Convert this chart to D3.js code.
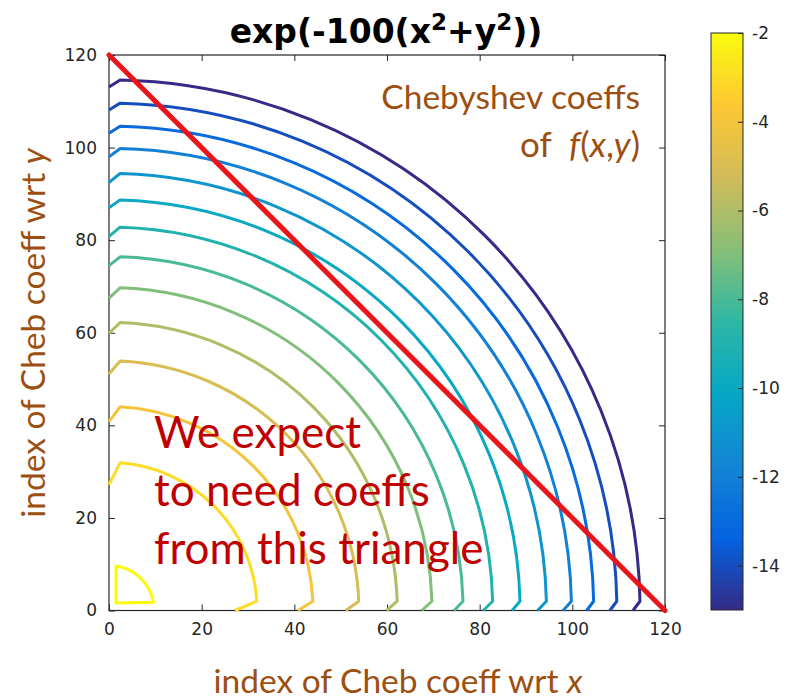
<!DOCTYPE html>
<html>
<head>
<meta charset="utf-8">
<script src="https://cdn.jsdelivr.net/npm/d3@7"></script>
<style>
  body { margin: 0; background: #fff; }
</style>
</head>
<body>
<div id="chart"></div>
<script>
// contour levels = log10 |coeff|, innermost first
var levels = [-2, -3, -4, -5, -6, -7, -8, -9, -10, -11, -12, -13, -14, -15];
// index where each contour is farthest out along an axis
var peakIndex = [9.6, 31.9, 44.0, 53.9, 62.2, 69.7, 76.4, 82.8, 88.7, 94.4, 99.8, 104.6, 109.6, 114.6];
// index where each contour touches the axis (null = closed contour near origin)
var axisIndex = [null, 27.2, 40.8, 51.1, 59.9, 67.5, 74.5, 80.8, 87.0, 92.5, 98.0, 103.1, 108.1, 113.1];

var xTicks = [0, 20, 40, 60, 80, 100, 120];
var yTicks = [0, 20, 40, 60, 80, 100, 120];
var cbTicks = [-2, -4, -6, -8, -10, -12, -14];
var cbRange = [-15, -2];

// the triangle i + j <= 120
var triangle = [[0, 120], [120, 0]];

// parula colormap (sampled)
var parula = [
  [0.2081, 0.1663, 0.5292], [0.0117, 0.3875, 0.8820], [0.0793, 0.5200, 0.8312],
  [0.0228, 0.6535, 0.7768], [0.1801, 0.7177, 0.6424], [0.5300, 0.7491, 0.4661],
  [0.8185, 0.7327, 0.3498], [0.9955, 0.7861, 0.1967], [0.9763, 0.9831, 0.0538]
];

var svgWidth = 794, svgHeight = 700;
var margin = { top: 55, right: 129, bottom: 89.5, left: 109 };
var width = svgWidth - margin.left - margin.right;
var height = svgHeight - margin.top - margin.bottom;

var svg = d3.select("#chart").append("svg")
  .attr("width", svgWidth)
  .attr("height", svgHeight);

var chartGroup = svg.append("g")
  .attr("transform", `translate(${margin.left}, ${margin.top})`);

var x = d3.scaleLinear().domain([0, 120]).range([0, width]);
var y = d3.scaleLinear().domain([0, 120]).range([height, 0]);

var parulaColors = parula.map(c => d3.rgb(c[0] * 255, c[1] * 255, c[2] * 255).toString());
var parulaScale = d3.scaleLinear()
  .domain(d3.range(parula.length).map(i => i / (parula.length - 1)))
  .range(parulaColors)
  .interpolate(d3.interpolateRgb);
var color = lev => parulaScale((lev - cbRange[0]) / (cbRange[1] - cbRange[0]));

// axes box with inward ticks on all four sides
var axisColor = "#262626";
var tickFont = "'DejaVu Sans', sans-serif";
var plain = d => String(d);   // hyphen minus like matlab

chartGroup.append("g")
  .attr("transform", `translate(0, ${height})`)
  .call(d3.axisBottom(x).tickValues(xTicks).tickFormat(plain).tickSizeInner(-6).tickSizeOuter(0).tickPadding(12))
  .call(g => g.select(".domain").remove());
chartGroup.append("g")
  .call(d3.axisLeft(y).tickValues(yTicks).tickFormat(plain).tickSizeInner(-6).tickSizeOuter(0).tickPadding(12))
  .call(g => g.select(".domain").remove());
chartGroup.append("g")
  .call(d3.axisTop(x).tickValues(xTicks).tickSizeInner(-6).tickSizeOuter(0).tickFormat(""))
  .call(g => g.select(".domain").remove());
chartGroup.append("g")
  .attr("transform", `translate(${width}, 0)`)
  .call(d3.axisRight(y).tickValues(yTicks).tickSizeInner(-6).tickSizeOuter(0).tickFormat(""))
  .call(g => g.select(".domain").remove());

chartGroup.selectAll(".tick line").attr("stroke", axisColor);
chartGroup.selectAll(".tick text")
  .attr("fill", axisColor)
  .style("font-family", tickFont)
  .style("font-size", "17px");

chartGroup.append("rect")
  .attr("width", width)
  .attr("height", height)
  .attr("fill", "none")
  .attr("stroke", axisColor)
  .attr("stroke-width", 1.2);

// contour lines
chartGroup.selectAll(".contour")
  .data(levels)
  .enter()
  .append("path")
  .attr("class", "contour")
  .attr("d", function(lev, i) {
    var p = peakIndex[i], s = axisIndex[i];
    var rx = x(p) - x(0), ry = y(0) - y(p);
    if (s === null) {
      return "M" + x(1.5) + "," + y(1.6) + "L" + x(1.5) + "," + y(p) +
        "A" + rx + "," + ry + " 0 0 1 " + x(p) + "," + y(1.8) + "Z";
    }
    return "M" + x(0) + "," + y(s) + "L" + x(2.4) + "," + y(p) +
      "A" + rx + "," + ry + " 0 0 1 " + x(p) + "," + y(2) + "L" + x(s) + "," + y(0);
  })
  .attr("fill", "none")
  .attr("stroke", lev => color(lev))
  .attr("stroke-width", 3)
  .attr("stroke-linejoin", "round");

// red triangle edge
chartGroup.append("path")
  .datum(triangle)
  .attr("d", d3.line().x(d => x(d[0])).y(d => y(d[1])))
  .attr("stroke", "#e8161b")
  .attr("stroke-width", 5)
  .attr("stroke-linecap", "round");

// title
var title = svg.append("text")
  .attr("x", margin.left + width / 2 - 1)
  .attr("y", 43)
  .attr("text-anchor", "middle")
  .style("font-family", tickFont)
  .style("font-weight", "bold")
  .style("font-size", "33px")
  .attr("fill", "#000");
title.append("tspan").text("exp(-100(x");
title.append("tspan").attr("dy", -13).style("font-size", "23px").text("2");
title.append("tspan").attr("dy", 13).text("+y");
title.append("tspan").attr("dy", -13).style("font-size", "23px").text("2");
title.append("tspan").attr("dy", 13).text("))");

// colorbar
var cbLeft = 711, cbWidth = 32, cbTop = 33, cbBottom = 610;
var cbScale = d3.scaleLinear().domain(cbRange).range([cbBottom, cbTop]);

var grad = svg.append("defs").append("linearGradient")
  .attr("id", "parula")
  .attr("x1", 0).attr("y1", 1).attr("x2", 0).attr("y2", 0);
grad.selectAll("stop")
  .data(parulaColors)
  .enter()
  .append("stop")
  .attr("offset", (d, i) => i / (parulaColors.length - 1))
  .attr("stop-color", d => d);

svg.append("rect")
  .attr("x", cbLeft)
  .attr("y", cbTop)
  .attr("width", cbWidth)
  .attr("height", cbBottom - cbTop)
  .attr("fill", "url(#parula)")
  .attr("stroke", axisColor)
  .attr("stroke-width", 1);

var cbAxis = svg.append("g")
  .attr("transform", `translate(${cbLeft + cbWidth}, 0)`)
  .call(d3.axisRight(cbScale).tickValues(cbTicks).tickFormat(plain).tickSizeInner(-5).tickSizeOuter(0).tickPadding(9))
  .call(g => g.select(".domain").remove());
cbAxis.selectAll(".tick line").attr("stroke", axisColor);
cbAxis.selectAll(".tick text")
  .attr("fill", axisColor)
  .style("font-family", tickFont)
  .style("font-size", "17px");

// annotations
var brown = "#9c4f10";
var noteFont = "Lato, 'Open Sans', sans-serif";

svg.append("text")
  .attr("x", 640).attr("y", 109)
  .attr("text-anchor", "end")
  .style("font-family", noteFont).style("font-size", "33.5px")
  .attr("fill", brown)
  .text("Chebyshev coeffs");

var fxy = svg.append("text")
  .attr("x", 640).attr("y", 157)
  .attr("text-anchor", "end")
  .style("font-family", noteFont).style("font-size", "35px")
  .attr("fill", brown);
fxy.append("tspan").text("of\u00a0\u00a0");
fxy.append("tspan").style("font-style", "italic").text("f");
fxy.append("tspan").text("(");
fxy.append("tspan").style("font-style", "italic").text("x");
fxy.append("tspan").text(",");
fxy.append("tspan").style("font-style", "italic").text("y");
fxy.append("tspan").text(")");

var xLabel = svg.append("text")
  .attr("x", 398).attr("y", 693)
  .attr("text-anchor", "middle")
  .style("font-family", noteFont).style("font-size", "33.5px")
  .attr("fill", brown);
xLabel.append("tspan").text("index of Cheb coeff wrt ");
xLabel.append("tspan").style("font-style", "italic").text("x");

var yLabel = svg.append("text")
  .attr("transform", "translate(45, 333) rotate(-90)")
  .attr("text-anchor", "middle")
  .style("font-family", noteFont).style("font-size", "33.5px")
  .attr("fill", brown);
yLabel.append("tspan").text("index of Cheb coeff wrt ");
yLabel.append("tspan").style("font-style", "italic").text("y");

var redLines = ["We expect", "to need coeffs", "from this triangle"];
svg.selectAll(".note")
  .data(redLines)
  .enter()
  .append("text")
  .attr("class", "note")
  .attr("x", 154)
  .attr("y", (d, i) => 448 + i * 58)
  .style("font-family", noteFont).style("font-size", "44px")
  .attr("fill", "#c00000")
  .text(d => d);
</script>
</body>
</html>
